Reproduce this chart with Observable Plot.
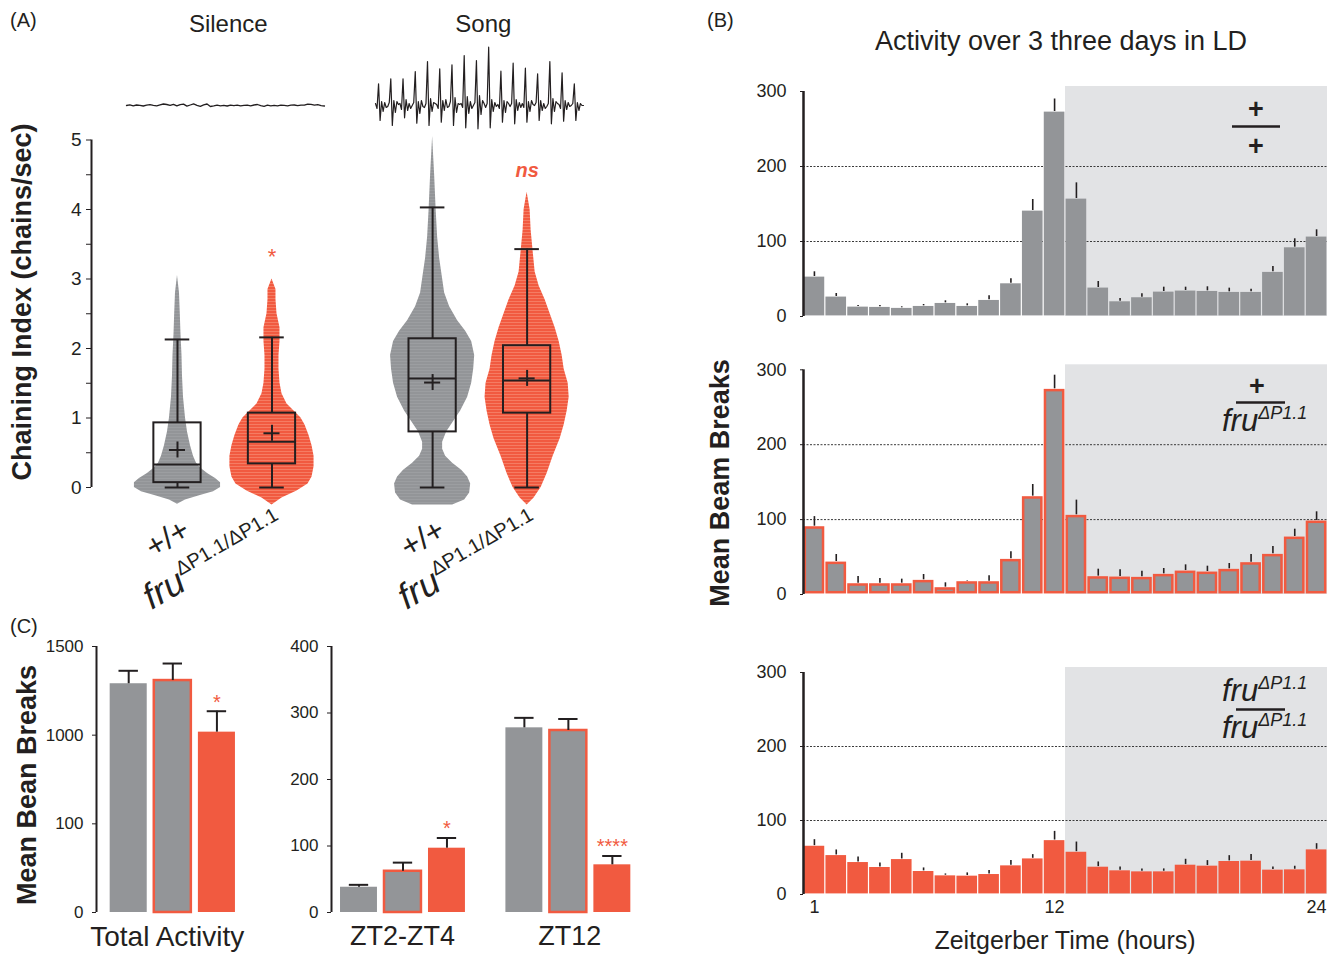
<!DOCTYPE html>
<html><head><meta charset="utf-8">
<script src="https://cdn.jsdelivr.net/npm/d3@7"></script>
<script src="https://cdn.jsdelivr.net/npm/@observablehq/plot@0.6"></script>
<style>
body{margin:0;background:#fff;}
#fig{position:relative;width:1328px;height:954px;overflow:hidden;font-family:"Liberation Sans",Arial,sans-serif;color:#231f20;background:#fff;}
#fig > .p{position:absolute;}
#fig svg{display:block;}
#overlay{position:absolute;left:0;top:0;pointer-events:none;}
</style></head><body><div id="fig"></div>
<script>
// ---------------- DATA ----------------
// Panel A: chaining index distributions
const groupsA = ["Silence +/+", "Silence fru", "Song +/+", "Song fru"];
const conditionsA = ["Silence", "Song"];
const q1A = [0.07, 0.34, 0.80, 1.07];
const medianA = [0.33, 0.66, 1.57, 1.54];
const q3A = [0.93, 1.07, 2.14, 2.04];
const whiskerLowA = [0, 0, 0, 0];
const whiskerHighA = [2.13, 2.16, 4.03, 3.43];
const meanA = [0.54, 0.78, 1.51, 1.57];
const sigTextA = ["", "*", "", "ns"];
const sigYA = [null, 3.4, null, 4.56];
const tickValuesA = [0, 0.5, 1, 1.5, 2, 2.5, 3, 3.5, 4, 4.5, 5];
// violin profiles: [value, relative density]
const violinSilenceWT = [[-0.24,0],[-0.18,8],[-0.12,22],[-0.06,36],[0,43],[0.07,43],[0.13,38],[0.2,30],[0.27,24],[0.35,19],[0.45,16],[0.6,13],[0.8,10],[1,8],[1.3,6],[1.6,5],[1.9,4.5],[2.2,3.5],[2.5,2.8],[2.8,2],[3.05,0]];
const violinSilenceFru = [[-0.25,0],[-0.15,10],[-0.05,25],[0.05,36],[0.15,40],[0.3,42],[0.45,42],[0.6,40],[0.75,37],[0.9,33],[1,29],[1.1,22],[1.2,15],[1.35,10],[1.5,8],[1.7,7],[1.9,7],[2.1,8],[2.3,8],[2.5,5],[2.7,4],[2.85,4],[3,0]];
const violinSongWT = [[-0.25,20],[-0.18,32],[-0.08,37],[0.05,38],[0.15,35],[0.25,29],[0.35,20],[0.45,13],[0.55,10],[0.65,10],[0.8,14],[0.95,21],[1.1,28],[1.3,35],[1.5,39],[1.7,41],[1.9,42],[2.1,39],[2.25,33],[2.4,25],[2.6,17],[2.8,12],[3,10],[3.3,7],[3.6,5],[4,3.5],[4.5,2],[5.05,0]];
const violinSongFru = [[-0.25,0],[-0.15,7],[0,14],[0.2,20],[0.45,26],[0.7,33],[0.9,37],[1.1,40],[1.3,42],[1.5,41],[1.7,37],[1.9,35],[2.1,32],[2.3,28],[2.5,23],[2.7,18],[2.9,12],[3.1,8],[3.4,6],[3.7,4],[4,3],[4.25,0]];
// sound traces (px amplitude)
const silenceTrace = [0,0.6,-0.4,0.5,0.2,-0.5,0.4,0.8,0.1,-0.3,0.6,1.5,1.0,0.2,1.2,-0.4,0.9,1.4,-0.6,0.5,1.6,0.2,-0.8,0.6,1.5,-1.0,-0.4,0.3,-0.3,0.1,-0.5,0.4,-0.1,0.3,-0.4,0.1,0.4,-0.3,0.5,1.0,-0.1,-0.8,0.3,-0.4,0.1,-0.3,0.4,0.1,-0.3,0.3,0.5,-0.1,0.4,0.3,1.4,1.1,0.4,0.8,-0.1,-0.5];
const songUp = [21.7,26.7,26.7,34,44,36.7,40.7,50,45,58.3,34.3,42.3,37.3,31.7,44,32.7,21.7];
const songDown = [15,20,12.3,17.7,20,16.7,20,22.3,23.3,22.3,16.7,18.3,16.7,15,18.3,15.7,15];
const songNoise = [2,-3,4,-6,3,-2, -1,3,5,-7,4,1, 2,-4,6,-5,2,-3, 0,3,4,-8,5,-1, -2,2,7,-6,3,2, 1,-3,5,-5,6,-2, -1,4,8,-7,2,1, 2,-2,9,-8,4,-3, 0,3,10,-9,5,2, -2,2,6,-6,3,-1, 1,-3,5,-7,4,2, -1,2,6,-5,3,-2, 2,-2,4,-6,5,1, 0,3,5,-5,2,-3, -1,2,7,-6,4,2, 1,-3,5,-4,3,-1, 0,2,3,-5,2,0];

// Panel B: hourly mean beam breaks
const hours = [1,2,3,4,5,6,7,8,9,10,11,12,13,14,15,16,17,18,19,20,21,22,23,24];
const lightsOffZT = 12;
const wtMean = [53.3,26.7,13.3,12.9,11.6,14.2,18.2,14.2,22.2,44.4,141.3,273.3,157.3,38.7,20.4,25.8,33.3,34.7,34.2,32.9,32.9,59.6,92.4,106.7];
const wtErr  = [59.6,30.7,14.7,14.7,12.9,16,20.9,16.9,27.6,50.2,156,290,178.2,46.7,24,30.2,39.1,39.1,39.6,37.8,36.4,66.7,103.6,115.6];
const hetMean = [91.2,44,15.1,15.1,15.1,19.6,9.8,17.8,17.8,47.6,131.3,274.6,106.4,24.5,24,23.6,27.6,32,30.7,34.3,43.2,54.3,77.4,98.8];
const hetErr  = [104,53.4,24,21.4,20.5,26.7,15.6,18.5,24.9,57,146.9,292.8,126,33.8,32.9,31.2,34.7,39.6,37.8,41.4,53.4,64.1,87.2,110.4];
const mutMean = [66,53.4,44,37.3,48,31.9,26,25.6,27.8,39.5,48.9,73.6,57.9,37.7,32.8,31.4,31.4,40.4,39.1,45.4,45.8,33.7,34.1,61.1];
const mutErr  = [74.1,60.2,50.7,42.7,55.7,35.9,27.8,29.2,32.3,45.8,53.9,85.3,70.9,44,37.3,34.6,34.6,47.6,45.8,52.5,53.9,37.3,38.2,68.7];
const hourTicks = [1, 12, 24];
const yTicksB = [0, 100, 200, 300];

// Panel C
const genotypes = ["+/+", "+/fru", "fru/fru"];
const totalMean = [1290, 1308, 1017];
const totalErr = [1363, 1404, 1135];
const totalSig = ["", "", "*"];
const totalTickValues = [0, 500, 1000, 1500];
const totalTickLabels = ["0", "100", "1000", "1500"];
const ztWindows = ["ZT2-ZT4", "ZT12"];
const zt24Mean = [38, 62, 96.7];
const zt24Err = [41.6, 75, 112];
const zt24Sig = ["", "", "*"];
const zt12Mean = [277.7, 273.7, 71.7];
const zt12Err = [292.7, 291, 85];
const zt12Sig = ["", "", "****"];
const ztTicks = [0, 100, 200, 300, 400];

// ---------------- STYLE / HELPERS ----------------
const C = {gray: "#939598", orange: "#f15a40", ink: "#231f20", shade: "#e2e3e5"};
const FONT = "'Liberation Sans', Arial, Helvetica, sans-serif";
const fig = document.getElementById("fig");
function place(el, left, top, w, h) {
  const d = document.createElement("div");
  d.className = "p";
  Object.assign(d.style, {left: left + "px", top: top + "px", width: w + "px", height: h + "px"});
  d.appendChild(el); fig.appendChild(d);
}
const styleOf = size => ({background: "transparent", fontFamily: FONT, fontSize: size + "px", color: C.ink, overflow: "visible"});

// stripe patterns for the violins
const defs = d3.select(fig).append("svg").attr("width", 0).attr("height", 0)
  .style("position", "absolute").append("defs");
function stripes(id, base, line) {
  const p = defs.append("pattern").attr("id", id).attr("patternUnits", "userSpaceOnUse")
    .attr("width", 8).attr("height", 3);
  p.append("rect").attr("width", 8).attr("height", 3).attr("fill", base);
  p.append("rect").attr("y", 1).attr("width", 8).attr("height", 0.8).attr("fill", line);
}
stripes("stripeGray", C.gray, "#9fa1a4");
stripes("stripeOrange", C.orange, "#f6846c");

// ---------------- PANEL A ----------------
const slot = i => i + (i >= 2 ? 0.7 : 0);
const xDomA = [-0.91, 4.265];
const violinScale = 0.0106;
const violins = [violinSilenceWT, violinSilenceFru, violinSongWT, violinSongFru];
const violinFill = ["url(#stripeGray)", "url(#stripeOrange)", "url(#stripeGray)", "url(#stripeOrange)"];
const boxRows = groupsA.map((g, i) => ({g, c: slot(i), q1: q1A[i], med: medianA[i], q3: q3A[i],
  lo: whiskerLowA[i], hi: whiskerHighA[i], mean: meanA[i], sig: sigTextA[i], sy: sigYA[i]}));
const violinMarks = violins.map((v, i) => Plot.areaX(
  v.map(([y, w]) => ({y, lo: slot(i) - w * violinScale, hi: slot(i) + w * violinScale})),
  {y: "y", x1: "lo", x2: "hi", fill: violinFill[i]}));
const boxHalf = 0.25, capHalf = 0.13, crossX = 0.085, crossY = 0.115;
const plotA = Plot.plot({
  width: 600, height: 500, marginLeft: 91, marginRight: 20, marginTop: 19.5, marginBottom: 133,
  style: styleOf(19),
  x: {domain: xDomA, axis: null},
  y: {domain: [0, 5], ticks: tickValuesA, tickFormat: d => Number.isInteger(d) ? String(d) : "",
      tickSize: 5, tickPadding: 5, label: null},
  marks: [
    ...violinMarks,
    Plot.ruleX(boxRows, {x: "c", y1: "lo", y2: "q1", stroke: C.ink, strokeWidth: 2}),
    Plot.ruleX(boxRows, {x: "c", y1: "q3", y2: "hi", stroke: C.ink, strokeWidth: 2}),
    Plot.ruleY(boxRows, {y: "lo", x1: d => d.c - capHalf, x2: d => d.c + capHalf, stroke: C.ink, strokeWidth: 2}),
    Plot.ruleY(boxRows, {y: "hi", x1: d => d.c - capHalf, x2: d => d.c + capHalf, stroke: C.ink, strokeWidth: 2}),
    Plot.rect(boxRows, {x1: d => d.c - boxHalf, x2: d => d.c + boxHalf, y1: "q1", y2: "q3", fill: "none", stroke: C.ink, strokeWidth: 2}),
    Plot.ruleY(boxRows, {y: "med", x1: d => d.c - boxHalf, x2: d => d.c + boxHalf, stroke: C.ink, strokeWidth: 2}),
    Plot.ruleY(boxRows, {y: "mean", x1: d => d.c - crossX, x2: d => d.c + crossX, stroke: C.ink, strokeWidth: 2}),
    Plot.ruleX(boxRows, {x: "c", y1: d => d.mean - crossY, y2: d => d.mean + crossY, stroke: C.ink, strokeWidth: 2}),
    Plot.text(boxRows.filter(d => d.sig === "*"), {x: "c", y: "sy", text: "sig", fill: C.orange, fontSize: 22, dy: 6}),
    Plot.text(boxRows.filter(d => d.sig === "ns"), {x: "c", y: "sy", text: "sig", fill: C.orange, fontSize: 20, fontWeight: "bold", fontStyle: "italic"}),
    Plot.ruleX([xDomA[0]], {y1: 0, y2: 5, stroke: C.ink, strokeWidth: 2})
  ]
});
place(plotA, 0, 120, 600, 500);
const xA = v => plotA.scale("x").apply(v);

// sound traces
const silPlot = Plot.plot({
  width: 210, height: 30, marginLeft: 6, marginRight: 6, marginTop: 0, marginBottom: 0,
  style: styleOf(12), x: {domain: [0, silenceTrace.length - 1], axis: null}, y: {domain: [-15, 15], axis: null},
  marks: [Plot.line(silenceTrace, {x: (d, i) => i, y: d => d, stroke: C.ink, strokeWidth: 1.3})]
});
place(silPlot, 120, 90, 210, 30);
const songPoints = [];
songUp.forEach((u, i) => {
  const n = songNoise.slice(i * 6, i * 6 + 6);
  songPoints.push(n[0], n[1], u, -songDown[i], n[2], n[3], n[4], n[5]);
});
songPoints.push(0);
const songPlot = Plot.plot({
  width: 220, height: 100, marginLeft: 5, marginRight: 7, marginTop: 0, marginBottom: 0,
  style: styleOf(12), x: {domain: [0, songPoints.length - 1], axis: null}, y: {domain: [-35, 65], axis: null},
  marks: [Plot.line(songPoints, {x: (d, i) => i, y: d => d, stroke: C.ink, strokeWidth: 1.2})]
});
place(songPlot, 370, 40, 220, 100);

// ---------------- PANEL B ----------------
function panelB(mean, err, fill, stroke, opts) {
  const rows = hours.map((h, i) => ({h, v: mean[i], e: err[i]}));
  const ymax = yTicksB[yTicksB.length - 1];
  return Plot.plot({
    width: 628, height: opts.height, marginLeft: 103, marginRight: 1,
    marginTop: opts.top, marginBottom: opts.bottom,
    style: styleOf(18),
    x: opts.xaxis ? {domain: [0.5, 24.5], ticks: hourTicks, tickSize: 0, tickPadding: 6, label: null}
                  : {domain: [0.5, 24.5], axis: null},
    y: {domain: [0, ymax], ticks: yTicksB, tickSize: 3, tickPadding: 14, label: null},
    marks: [
      Plot.rect([{start: lightsOffZT + 0.5, end: hours.length + 0.5}],
        {x1: "start", x2: "end", y1: 0, y2: ymax, fill: C.shade, insetTop: -5}),
      Plot.ruleY([100, 200], {stroke: "#3a3a3a", strokeWidth: 1, strokeDasharray: "2,1.5"}),
      Plot.rect(rows, {x1: d => d.h - 0.5, x2: d => d.h + 0.5, y1: 0, y2: "v", fill,
        stroke, strokeWidth: stroke === "none" ? 0 : 2.5,
        inset: stroke === "none" ? 0.6 : 1.8}),
      Plot.ruleX(rows, {x: "h", y1: "v", y2: "e", stroke: C.ink, strokeWidth: 1.6}),
      Plot.ruleX([0.5], {y1: 0, y2: ymax, stroke: C.ink, strokeWidth: 2.5})
    ]
  });
}
place(panelB(wtMean, wtErr, C.gray, "none", {height: 270, top: 31, bottom: 14}), 700, 60, 628, 270);
place(panelB(hetMean, hetErr, C.gray, C.orange, {height: 270, top: 29.3, bottom: 16}), 700, 340, 628, 270);
place(panelB(mutMean, mutErr, C.orange, "none", {height: 280, top: 32, bottom: 26, xaxis: true}), 700, 640, 628, 280);

// ---------------- PANEL C ----------------
const barFill = [C.gray, C.gray, C.orange];
const barStroke = ["none", C.orange, "none"];
const barHalf = 0.42, errCap = 0.22;
function barMarks(rows) {
  return [
    Plot.rect(rows, {x1: d => d.pos - barHalf, x2: d => d.pos + barHalf, y1: 0, y2: "v",
      fill: "fill", stroke: "stroke", strokeWidth: 2.5}),
    Plot.ruleX(rows, {x: "pos", y1: "v", y2: "e", stroke: C.ink, strokeWidth: 2}),
    Plot.ruleY(rows, {y: "e", x1: d => d.pos - errCap, x2: d => d.pos + errCap, stroke: C.ink, strokeWidth: 2}),
    Plot.text(rows.filter(d => d.sig), {x: "pos", y: "e", text: "sig", fill: C.orange, fontSize: 20, dy: -9})
  ];
}
const totalRows = genotypes.map((g, i) => ({g, pos: i, v: totalMean[i], e: totalErr[i], sig: totalSig[i],
  fill: barFill[i], stroke: barStroke[i]}));
const xDomTotal = [-0.73, 2.75];
const plotTotal = Plot.plot({
  width: 260, height: 334, marginLeft: 96, marginRight: 10.5, marginTop: 26, marginBottom: 42,
  style: styleOf(17),
  color: {type: "identity"},
  x: {domain: xDomTotal, axis: null},
  y: {domain: [0, 1500], ticks: totalTickValues,
      tickFormat: d => totalTickLabels[totalTickValues.indexOf(d)], tickSize: 4, tickPadding: 9, label: null},
  marks: [...barMarks(totalRows), Plot.ruleX([xDomTotal[0]], {y1: 0, y2: 1500, stroke: C.ink, strokeWidth: 2})]
});
place(plotTotal, 0, 620, 260, 334);

const ztGroupGap = 3.76;
const ztRows = [];
[[zt24Mean, zt24Err, zt24Sig], [zt12Mean, zt12Err, zt12Sig]].forEach(([m, e, s], g) => {
  genotypes.forEach((gt, i) => ztRows.push({win: ztWindows[g], pos: g * ztGroupGap + i, v: m[i], e: e[i], sig: s[i],
    fill: barFill[i], stroke: barStroke[i]}));
});
const xDomZT = [-0.625, 6.4];
const plotZT = Plot.plot({
  width: 350, height: 334, marginLeft: 31, marginRight: 10, marginTop: 26, marginBottom: 42,
  style: styleOf(17),
  color: {type: "identity"},
  x: {domain: xDomZT, axis: null},
  y: {domain: [0, 400], ticks: ztTicks, tickSize: 4, tickPadding: 9, label: null},
  marks: [...barMarks(ztRows), Plot.ruleX([xDomZT[0]], {y1: 0, y2: 400, stroke: C.ink, strokeWidth: 2})]
});
place(plotZT, 300, 620, 350, 334);
const xZT = v => plotZT.scale("x").apply(v) + 300;
const xTot = v => plotTotal.scale("x").apply(v);

// ---------------- TEXT OVERLAY ----------------
const ov = d3.select(fig).append("svg").attr("id", "overlay").attr("width", 1328).attr("height", 954)
  .attr("font-family", FONT).attr("fill", C.ink);
function label(x, y, str, o = {}) {
  const t = ov.append("text").attr("x", x).attr("y", y)
    .attr("font-size", o.size || 18).attr("text-anchor", o.anchor || "middle")
    .attr("dominant-baseline", o.base || "central");
  if (o.weight) t.attr("font-weight", o.weight);
  if (o.italic) t.attr("font-style", "italic");
  if (o.fill) t.attr("fill", o.fill);
  if (o.rotate) t.attr("transform", `rotate(${o.rotate},${x},${y})`);
  t.text(str);
  return t;
}
function fru(x, y, sup, o) {
  const t = ov.append("text").attr("x", x).attr("y", y).attr("font-size", o.size)
    .attr("text-anchor", o.anchor || "start");
  if (o.rotate) t.attr("transform", `rotate(${o.rotate},${x},${y})`);
  t.append("tspan").attr("font-style", "italic").text("fru");
  const s = t.append("tspan").attr("font-size", o.supSize).attr("dy", -o.raise).text(sup);
  if (o.supItalic) s.attr("font-style", "italic");
  return t;
}
function fracLine(x1, x2, y) {
  ov.append("line").attr("x1", x1).attr("x2", x2).attr("y1", y).attr("y2", y)
    .attr("stroke", C.ink).attr("stroke-width", 2.5);
}

// panel letters
label(10, 20, "(A)", {size: 20, anchor: "start"});
label(707, 20, "(B)", {size: 20, anchor: "start"});
label(10, 626, "(C)", {size: 20, anchor: "start"});

// panel A texts
label((xA(slot(0)) + xA(slot(1))) / 2 + 4, 23, conditionsA[0], {size: 24});
label((xA(slot(2)) + xA(slot(3))) / 2 + 4, 23, conditionsA[1], {size: 24});
label(22, 302, "Chaining Index (chains/sec)", {size: 27, weight: "bold", rotate: -90});
[0, 2].forEach(i => {
  label(xA(slot(i)) + 15, 536, "+/+", {size: 31, anchor: "end", base: "auto", rotate: -30});
  fru(xA(slot(i + 1)) - 120, 610, "ΔP1.1/ΔP1.1", {size: 36, supSize: 20, raise: 15, rotate: -30});
});

// panel B texts
label(1061, 41, "Activity over 3 three days in LD", {size: 27});
label(720, 483, "Mean Beam Breaks", {size: 27, weight: "bold", rotate: -90});
label(1065, 940, "Zeitgerber Time (hours)", {size: 25});
label(1256, 109, "+", {size: 27, weight: "bold"});
fracLine(1232, 1280, 126.5);
label(1256, 146, "+", {size: 27, weight: "bold"});
label(1257, 386, "+", {size: 27, weight: "bold"});
fracLine(1236, 1285, 402.5);
fru(1222, 431, "ΔP1.1", {size: 31, supSize: 18, raise: 12, supItalic: true});
fru(1222, 701, "ΔP1.1", {size: 31, supSize: 18, raise: 12, supItalic: true});
fracLine(1236, 1285, 709.5);
fru(1222, 738, "ΔP1.1", {size: 31, supSize: 18, raise: 12, supItalic: true});

// panel C texts
label(27, 785, "Mean Bean Breaks", {size: 27, weight: "bold", rotate: -90});
label(xTot(1) - 5, 936, "Total Activity", {size: 28});
label(xZT(1), 936, ztWindows[0], {size: 27});
label(xZT(ztGroupGap + 1) + 2, 936, ztWindows[1], {size: 27});
</script></body></html>
